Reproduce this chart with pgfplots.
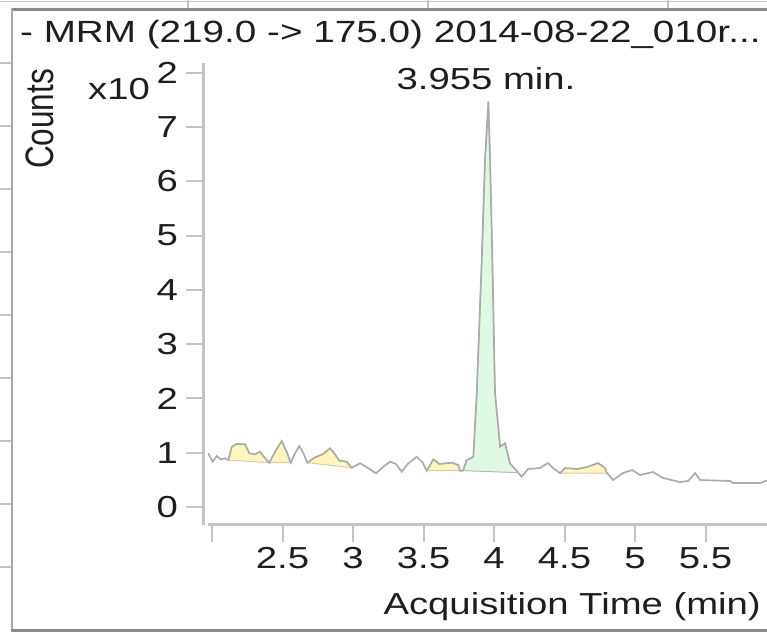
\documentclass[border=0pt]{standalone}
\usepackage{fontspec}
\setmainfont{Liberation Sans}[FakeStretch=1.26]
\newfontfamily\plainfont{Liberation Sans}
\usepackage{pgfplots}
\pgfplotsset{compat=1.18}
\definecolor{axgray}{HTML}{C4C4C4}
\definecolor{trace}{HTML}{ABABAB}
\definecolor{yfill}{HTML}{FFF6BE}
\definecolor{yedge}{HTML}{D6D0A4}
\definecolor{gfill}{HTML}{DFF9E4}
\definecolor{gedge}{HTML}{AFC2B3}
\definecolor{framec}{HTML}{8A8A8A}
\definecolor{txt}{HTML}{1E1E1E}
\begin{document}
\begin{tikzpicture}[x=1bp,y=1bp]
\useasboundingbox (0,0) rectangle (767,633);
\fill[white] (0,0) rectangle (767,633);
% remnants of neighbouring panels
\draw[axgray, line width=1.5] (0,631.5) -- (767,631.5);
\foreach \xx in {188,428,668} \draw[axgray, line width=1.5] (\xx,623) -- (\xx,633);
\foreach \yy in {63,126,189,252,315,378,441,504,567} \draw[axgray,line width=1.5] (0,633-\yy) -- (12,633-\yy);
% frame
\draw[framec, line width=3] (10.5,623) -- (767,623);
\draw[framec!75, line width=3] (12,624.5) -- (12,1);
\draw[framec, line width=2.5] (10.5,2.3) -- (767,2.3);
% title
\node[anchor=base west, inner sep=0pt, text=txt] at (20,590) {\fontsize{30.8}{34}\selectfont - MRM (219.0 -> 175.0) 2014-08-22\_010r...};
\begin{axis}[
  name=ax,
  at={(203bp,108bp)}, anchor=south west,
  scale only axis, width=564bp, height=462bp,
  xmin=1.936, xmax=5.936, ymin=-0.331, ymax=8.177,
  axis lines=left,
  axis line style={axgray, line width=3bp, -},
  x axis line style={shorten <=5bp},
  tick style={axgray, line width=2bp},
  tick align=outside,
  major tick length=17bp,
  xtick={2,2.5,3,3.5,4,4.5,5,5.5},
  xticklabels={,2.5,3,3.5,4,4.5,5,5.5},
  ytick={0,1,2,3,4,5,6,7,8},
  yticklabels={0,1,2,3,4,5,6,7,2},
  /pgf/number format/assume math mode=true,
  ticklabel style={font=\fontsize{30.5}{34}\selectfont, text=txt, inner sep=0pt},
  xticklabel style={anchor=north, yshift=-5bp},
  yticklabel style={anchor=east, xshift=-8bp},
  clip=true,
]
\addplot[fill=yfill, draw=yedge, line width=1bp] coordinates {(2.116,0.866) (2.140,1.110) (2.175,1.160) (2.234,1.155) (2.265,0.989) (2.305,0.971) (2.340,1.018) (2.376,0.897) (2.406,0.816)} -- cycle;
\addplot[fill=yfill, draw=yedge, line width=1bp] coordinates {(2.406,0.816) (2.447,1.018) (2.494,1.215) (2.534,0.989) (2.558,0.816)} -- cycle;
\addplot[fill=yfill, draw=yedge, line width=1bp] coordinates {(2.676,0.816) (2.730,0.915) (2.785,0.971) (2.837,1.081) (2.867,0.989) (2.903,0.853) (2.955,0.834) (2.991,0.724)} -- cycle;
\addplot[fill=yfill, draw=yedge, line width=1bp] coordinates {(3.523,0.668) (3.570,0.878) (3.612,0.792) (3.652,0.805) (3.700,0.816) (3.747,0.773) (3.759,0.668)} -- cycle;
\addplot[fill=gfill, draw=gedge, line width=1bp] coordinates {(3.780,0.670) (3.805,0.860) (3.853,0.926) (3.877,2.063) (3.913,4.549) (3.936,6.390) (3.960,7.464) (3.972,6.390) (3.988,4.549) (4.007,2.099) (4.043,1.110) (4.078,1.173) (4.113,0.805) (4.172,0.632)} -- cycle;
\addplot[fill=yfill, draw=yedge, line width=1bp] coordinates {(4.468,0.626) (4.504,0.718) (4.589,0.700) (4.660,0.737) (4.738,0.810) (4.787,0.718) (4.801,0.626)} -- cycle;
\addplot[trace, line width=1.7bp] coordinates {(1.974,0.989) (2.005,0.834) (2.033,0.939) (2.062,0.878) (2.092,0.897) (2.116,0.866) (2.140,1.110) (2.175,1.160) (2.234,1.155) (2.265,0.989) (2.305,0.971) (2.340,1.018) (2.376,0.897) (2.406,0.816) (2.447,1.018) (2.494,1.215) (2.534,0.989) (2.558,0.816) (2.589,0.989) (2.619,1.123) (2.648,0.989) (2.676,0.816) (2.730,0.915) (2.785,0.971) (2.837,1.081) (2.867,0.989) (2.903,0.853) (2.955,0.834) (2.991,0.724) (3.050,0.805) (3.109,0.713) (3.163,0.621) (3.215,0.742) (3.262,0.834) (3.305,0.792) (3.345,0.650) (3.392,0.805) (3.452,0.926) (3.494,0.816) (3.523,0.668) (3.570,0.878) (3.612,0.792) (3.652,0.805) (3.700,0.816) (3.747,0.773) (3.759,0.668) (3.780,0.670) (3.805,0.860) (3.853,0.926) (3.877,2.063) (3.913,4.549) (3.936,6.390) (3.960,7.464) (3.972,6.390) (3.988,4.549) (4.007,2.099) (4.043,1.110) (4.078,1.173) (4.113,0.805) (4.172,0.632) (4.196,0.558) (4.241,0.700) (4.326,0.718) (4.383,0.810) (4.418,0.718) (4.468,0.626) (4.504,0.718) (4.589,0.700) (4.660,0.737) (4.738,0.810) (4.787,0.718) (4.801,0.626) (4.844,0.497) (4.915,0.626) (4.979,0.681) (5.035,0.589) (5.128,0.645) (5.199,0.534) (5.319,0.460) (5.376,0.479) (5.426,0.626) (5.461,0.497) (5.674,0.479) (5.695,0.442) (5.887,0.442) (5.922,0.479) (5.950,0.470)};
\end{axis}
% peak annotation
\node[anchor=center, inner sep=0pt, text=txt] at (486,554.5) {\fontsize{30.5}{34}\selectfont 3.955 min.};
% y exponent and label
\node[anchor=base west, inner sep=0pt, text=txt] at (88,533) {\fontsize{30.5}{34}\selectfont x10};
\node[anchor=center, inner sep=0pt, text=txt] at (40,514) {\scalebox{1.26}[1]{\rotatebox{90}{\plainfont\fontsize{31.6}{34}\selectfont Counts}}};
% x label
\node[anchor=base east, inner sep=0pt, text=txt] at (761,18) {\fontsize{30.5}{34}\selectfont Acquisition Time (min)};
\end{tikzpicture}
\end{document}
